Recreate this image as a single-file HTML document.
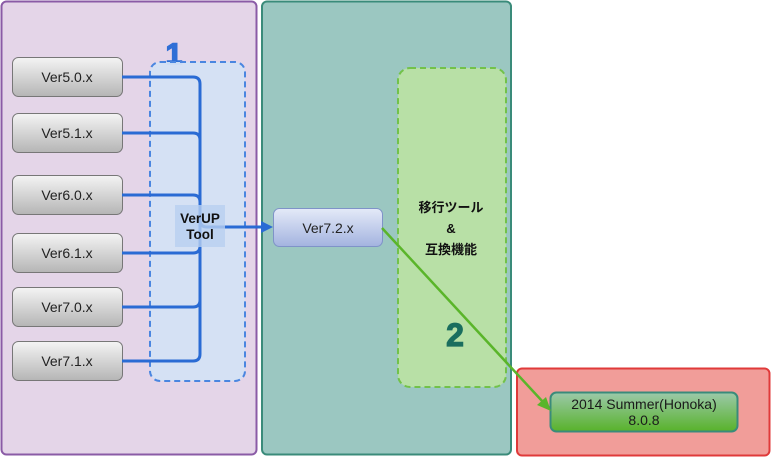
<!DOCTYPE html>
<html><head><meta charset="utf-8"><style>
html,body{margin:0;padding:0;background:#fff;}
svg{display:block;}
text{font-family:"Liberation Sans","Noto Sans CJK JP",sans-serif;}
</style></head><body>
<svg width="771" height="457" viewBox="0 0 771 457" xmlns="http://www.w3.org/2000/svg">
<defs>
<linearGradient id="gray" x1="0" y1="0" x2="0" y2="1"><stop offset="0" stop-color="#f4f4f4"/><stop offset="1" stop-color="#b5b5b5"/></linearGradient>
<linearGradient id="blue" x1="0" y1="0" x2="0" y2="1"><stop offset="0" stop-color="#e4eaf8"/><stop offset="1" stop-color="#a3b3df"/></linearGradient>
<linearGradient id="grn" x1="0" y1="0" x2="0" y2="1"><stop offset="0" stop-color="#9cc9aa"/><stop offset="1" stop-color="#58b22a"/></linearGradient>
</defs>
<!-- containers -->
<rect x="1.5" y="1.5" width="255" height="453" rx="5" fill="#e4d5e8" stroke="#8a5ba6" stroke-width="2"/>
<rect x="262" y="1.5" width="249" height="453" rx="5" fill="#9bc7c1" stroke="#3a8b7a" stroke-width="2"/>
<rect x="517" y="368.5" width="252.5" height="87" rx="5" fill="#f19d99" stroke="#e03a3a" stroke-width="2"/>
<!-- label 1 -->
<text x="174" y="64" font-size="30" font-weight="bold" fill="#2f6fd6" stroke="#2f6fd6" stroke-width="1.5" text-anchor="middle">1</text>
<!-- dashed boxes -->
<rect x="150" y="62" width="95" height="319" rx="10" fill="#d4e1f4" fill-opacity="0.95" stroke="#4a86e0" stroke-width="2" stroke-dasharray="6,4"/>
<rect x="398" y="68" width="108" height="319" rx="12" fill="#b8e0a6" stroke="#72c24a" stroke-width="2" stroke-dasharray="6,4"/>
<!-- gray nodes -->
<g stroke="#777" stroke-width="1" fill="url(#gray)">
<rect x="12.5" y="57.5" width="110" height="39" rx="6"/>
<rect x="12.5" y="113.5" width="110" height="39" rx="6"/>
<rect x="12.5" y="175.5" width="110" height="39" rx="6"/>
<rect x="12.5" y="233.5" width="110" height="39" rx="6"/>
<rect x="12.5" y="287.5" width="110" height="39" rx="6"/>
<rect x="12.5" y="341.5" width="110" height="39" rx="6"/>
</g>
<g font-size="14" fill="#222" text-anchor="middle">
<text x="67" y="82">Ver5.0.x</text>
<text x="67" y="138">Ver5.1.x</text>
<text x="67" y="200">Ver6.0.x</text>
<text x="67" y="258">Ver6.1.x</text>
<text x="67" y="312">Ver7.0.x</text>
<text x="67" y="366">Ver7.1.x</text>
</g>
<!-- blue connectors -->
<g fill="none" stroke="#2a6bd4" stroke-width="3">
<path d="M122 77 H193 Q200 77 200 84 V354 Q200 361 193 361 H122"/>
<path d="M122 133 H193 Q200 133 200 140"/>
<path d="M122 195 H193 Q200 195 200 202"/>
<path d="M122 253 H193 Q200 253 200 246"/>
<path d="M122 307 H193 Q200 307 200 300"/>
<path d="M200 220 Q200 227 207 227 H264"/>
</g>
<polygon points="273,227 261,221 261,233" fill="#2a6bd4"/>
<!-- VerUP Tool label -->
<rect x="175" y="205" width="50" height="42" fill="#b8cff0" fill-opacity="0.8"/>
<text x="200" y="223" font-size="13.5" font-weight="bold" fill="#111" text-anchor="middle">VerUP</text>
<text x="200" y="239" font-size="13.5" font-weight="bold" fill="#111" text-anchor="middle">Tool</text>
<!-- Ver7.2.x -->
<rect x="273.5" y="208.5" width="109" height="38" rx="6" fill="url(#blue)" stroke="#7f93c8" stroke-width="1"/>
<text x="328" y="233" font-size="14" fill="#222" text-anchor="middle">Ver7.2.x</text>
<!-- Japanese text -->
<g font-size="13" font-weight="bold" fill="#111" text-anchor="middle">
<text x="451" y="212">移行ツール</text>
<text x="451" y="233">&amp;</text>
<text x="451" y="254">互換機能</text>
</g>
<!-- label 2 -->
<text x="455" y="346" font-size="32" font-weight="bold" fill="#1a6e5e" stroke="#1a6e5e" stroke-width="1.2" text-anchor="middle">2</text>
<!-- Honoka node -->
<rect x="550.5" y="392.5" width="187" height="39" rx="6" fill="url(#grn)" stroke="#3a8b7a" stroke-width="2"/>
<text x="644" y="409" font-size="14" fill="#1a1a1a" text-anchor="middle">2014 Summer(Honoka)</text>
<text x="644" y="425" font-size="14" fill="#1a1a1a" text-anchor="middle">8.0.8</text>
<!-- green connector -->
<line x1="382" y1="228" x2="543" y2="402" stroke="#5ab52a" stroke-width="2.5"/>
<polygon points="551,411 537,405 546,397" fill="#5ab52a"/>
</svg>
</body></html>
